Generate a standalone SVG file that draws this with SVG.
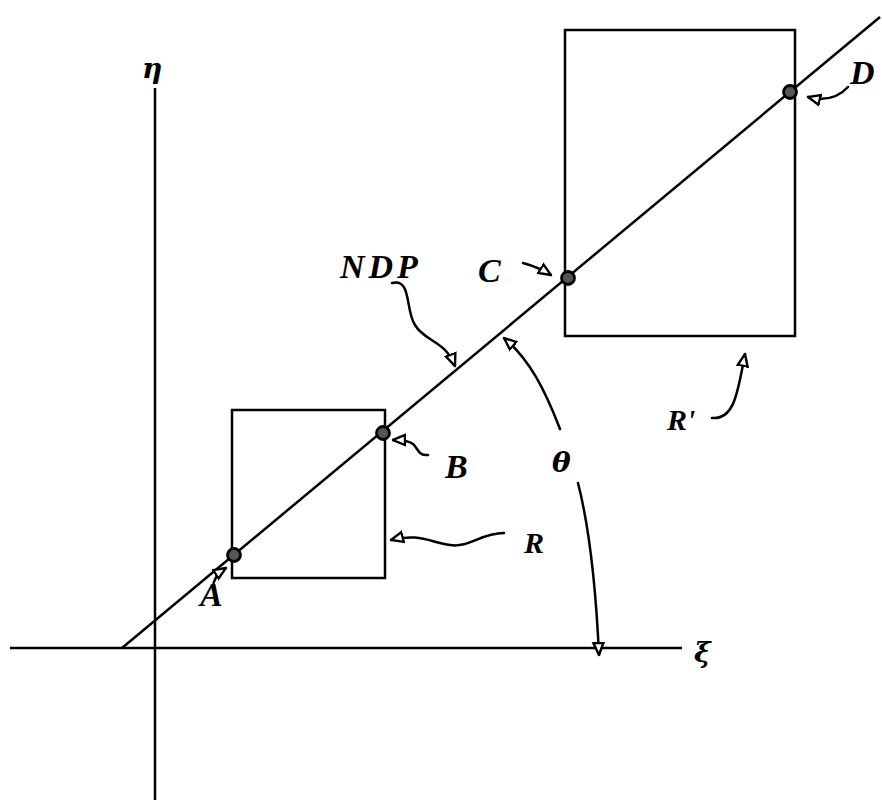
<svg xmlns="http://www.w3.org/2000/svg" width="882" height="804" viewBox="0 0 882 804">
<style>
.ln{stroke:#000;stroke-width:2.5;fill:none}
.cv{stroke:#000;stroke-width:2.5;fill:none;stroke-linecap:round}
.lb{font-family:"Liberation Serif",serif;font-style:italic;font-weight:bold;font-size:34px;fill:#000}
.rr{font-family:"Liberation Serif",serif;font-style:italic;font-weight:bold;font-size:30px;fill:#000}
.gk{font-family:"DejaVu Serif","Liberation Serif",serif;font-style:italic;font-weight:bold;font-size:28px;fill:#000}
.pt{fill:#555;stroke:#000;stroke-width:2.8}
</style>
<defs>
<marker id="ah" viewBox="0 0 14 14" refX="13" refY="7" markerWidth="14" markerHeight="14" markerUnits="userSpaceOnUse" orient="auto">
<path d="M1,2 L13,7 L1,12 Z" fill="#fff" stroke="#000" stroke-width="2.4"/>
</marker>
</defs>
<g id="axes">
<line class="ln" x1="155" y1="88" x2="155" y2="800"/>
<line class="ln" x1="10" y1="648" x2="682" y2="648"/>
<text class="gk" x="142" y="78">η</text>
<text class="gk" x="694" y="662">ξ</text>
</g>
<g id="R">
<rect class="ln" x="232" y="410" width="153" height="168"/>
<text class="rr" x="524" y="553">R</text>
</g>
<g id="Rprime">
<rect class="ln" x="565" y="30" width="230" height="306"/>
<text class="rr" x="667" y="430">R'</text>
</g>
<g id="NDP">
<line class="ln" x1="122" y1="648" x2="880" y2="17"/>
<text class="lb" x="340" y="278" letter-spacing="4">NDP</text>
</g>
<g id="A"><circle class="pt" cx="234" cy="555" r="6.5"/><text class="lb" x="200" y="606">A</text></g>
<g id="B"><circle class="pt" cx="383" cy="433" r="6.5"/><text class="lb" x="445" y="478">B</text></g>
<g id="C"><circle class="pt" cx="568" cy="278" r="6.5"/><text class="lb" x="478" y="282">C</text></g>
<g id="D"><circle class="pt" cx="790" cy="92" r="6.5"/><text class="lb" x="850" y="84">D</text></g>
<g id="theta"><text class="gk" x="552" y="472">θ</text></g>
<g id="connectors">
<path class="cv" marker-end="url(#ah)" d="M213,588 C213,580 218,573 226,568"/>
<path class="cv" marker-end="url(#ah)" d="M428,455 C418,456 418,448 413,444 C408,440 400,440 393,440"/>
<path class="cv" marker-end="url(#ah)" d="M523,263 C534,266 543,270 551,275"/>
<path class="cv" marker-end="url(#ah)" d="M848,87 C838,98 824,101 808,97"/>
<path class="cv" marker-end="url(#ah)" d="M392,283 C412,278 405,310 415,325 C425,342 445,340 455,366"/>
<path class="cv" marker-end="url(#ah)" d="M560,429 C545,390 530,360 504,338"/>
<path class="cv" marker-end="url(#ah)" d="M578,483 C590,530 596,590 599,655"/>
<path class="cv" marker-end="url(#ah)" d="M504,533 C480,533 470,548 450,545 C430,542 418,533 391,540"/>
<path class="cv" marker-end="url(#ah)" d="M712,418 C735,420 738,390 745,354"/>
</g>
</svg>
